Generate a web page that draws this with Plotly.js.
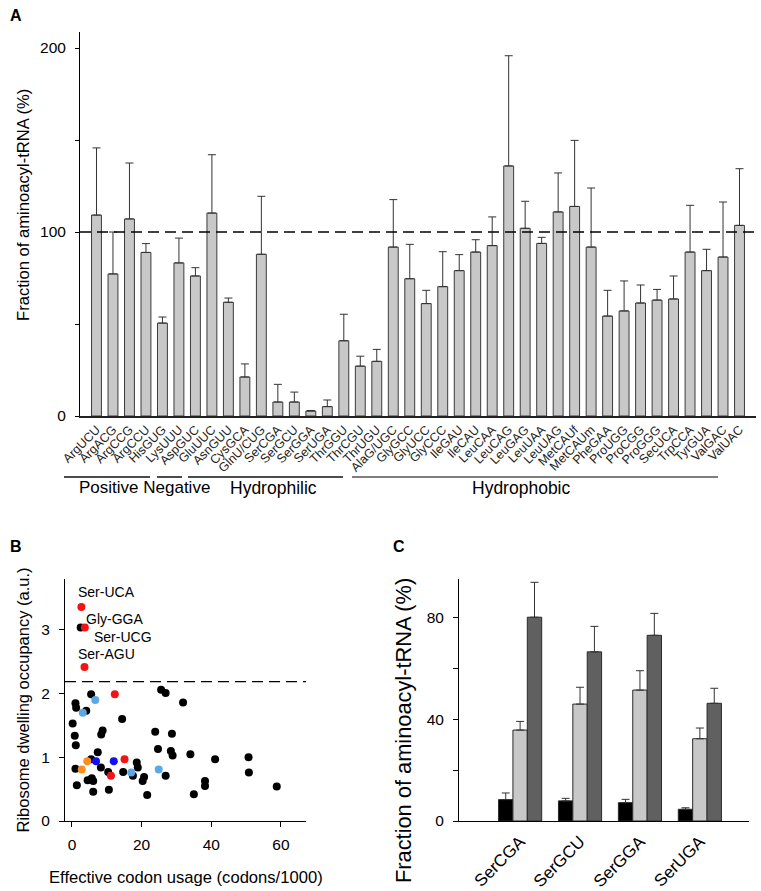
<!DOCTYPE html>
<html>
<head>
<meta charset="utf-8">
<script src="https://cdn.plot.ly/plotly-3.0.1.min.js"></script>
<style>html,body{margin:0;padding:0;background:#fff;}#chart{width:761px;height:891px;}</style>
</head>
<body>
<div id="chart"></div>
<script>
// ---------- Panel A data ----------
const codons = ['ArgUCU','ArgACG','ArgCCG','ArgCCU','HisGUG','LysUUU','AspGUC','GluUUC','AsnGUU','CysGCA',
  'GlnU/CUG','SerCGA','SerGCU','SerGGA','SerUGA','ThrGGU','ThrCGU','ThrUGU','AlaG/UGC','GlyGCC',
  'GlyUCC','GlyCCC','IleGAU','IleCAU','LeuCAA','LeuCAG','LeuGAG','LeuUAA','LeuUAG','MetCAUf',
  'MetCAUm','PheGAA','ProUGG','ProCGG','ProGGG','SecUCA','TrpCCA','TyrGUA','ValGAC','ValUAC'];
const fraction = [109.2,77.2,107.1,88.9,50.5,83.2,76.1,110.3,61.8,21.2,
  87.9,7.6,7.6,2.7,5.1,40.9,27.1,29.7,91.8,74.6,
  61.1,70.3,79.0,89.1,92.6,135.9,102.0,93.8,110.9,113.9,
  91.8,54.3,57.1,61.4,63.0,63.6,89.1,79.0,86.4,103.6];
const fractionErr = [36.5,22.8,30.4,4.8,3.3,13.5,4.5,31.7,2.3,7.1,
  31.5,9.6,5.4,0.3,3.6,14.4,5.4,6.5,25.8,18.7,
  7.2,19.0,8.7,6.7,15.6,59.9,14.7,3.3,21.2,35.9,
  32.1,14.0,16.3,9.8,5.8,12.5,25.4,11.6,29.9,30.8];
const yTickValsA = [0,50,100,150,200];
const yTickTextA = ['0','','100','','200'];

// ---------- Panel B data ----------
const usageBlack = [2.5,5.5,1.0,1.2,4.1,0.2,0.8,1.1,1.0,1.4,5.5,7.4,8.3,8.8,8.4,4.5,5.7,6.1,6.1,10.4,10.6,14.4,14.7,17.5,18.6,18.9,20.3,20.7,21.6,23.9,24.7,25.6,26.9,26.9,28.7,28.4,28.9,31.9,34.0,35.0,38.2,38.2,41.1,50.7,50.8,58.8];
const occBlack   = [3.04,1.99,1.85,1.78,1.73,1.53,1.34,1.19,0.82,0.56,0.97,1.08,0.84,1.42,1.36,0.64,0.67,0.63,0.46,0.77,0.49,1.60,0.77,0.71,0.92,0.84,0.63,0.69,0.41,1.40,1.13,2.06,2.01,0.71,1.37,1.10,1.03,1.86,1.05,0.42,0.63,0.55,0.97,1.00,0.76,0.54];
const usageRed = [2.7,3.7,3.6,12.3,15.1,11.2];
const occRed   = [3.36,3.04,2.42,1.99,0.97,0.71];
const usageLightBlue = [6.7,3.1,17.0,24.9];
const occLightBlue   = [1.90,1.70,0.76,0.81];
const usageBlue = [6.9,12.0];
const occBlue   = [0.94,0.94];
const usageOrange = [2.8,4.4];
const occOrange   = [0.81,0.94];
const labelNames = ['Ser-UCA','Gly-GGA','Ser-UCG','Ser-AGU'];
const labelX = [1.15,3.45,5.75,1.15];
const labelY = [3.60,3.17,2.89,2.63];
const occThreshold = 2.19;

// ---------- Panel C data ----------
const serCodons = ['SerCGA','SerGCU','SerGGA','SerUGA'];
const serBlack = [8.4,7.9,7.2,4.6];
const serBlackErr = [2.6,1.0,1.3,0.6];
const serLight = [35.7,45.9,51.4,32.3];
const serLightErr = [3.4,6.6,7.6,4.2];
const serDark = [80.0,66.4,72.9,46.2];
const serDarkErr = [13.7,10.0,8.6,5.9];
const yTickValsC = [0,20,40,60,80];
const yTickTextC = ['0','','40','','80'];

// ---------- Figure ----------
const FONT = 'Liberation Sans, Arial, Helvetica, sans-serif';
const W = 761, H = 891;
const px = v => v / W;
const py = v => 1 - v / H;

const traces = [];
traces.push({
  type: 'bar', x: codons, y: fraction, xaxis: 'x', yaxis: 'y', width: 0.6,
  marker: {color: '#c8c8c8', line: {color: '#3a3a3a', width: 1}},
  error_y: {type: 'data', symmetric: false, array: fractionErr, arrayminus: fraction.map(() => 0),
            color: '#333', thickness: 1, width: 4},
  hoverinfo: 'x+y', showlegend: false
});

function scatterTrace(xs, ys, color) {
  return {type: 'scatter', mode: 'markers', x: xs, y: ys, xaxis: 'x2', yaxis: 'y2',
    marker: {color: color, size: 8, line: {width: 0}}, showlegend: false, cliponaxis: false};
}
traces.push(scatterTrace(usageBlack, occBlack, '#000000'));
traces.push(scatterTrace(usageRed, occRed, '#f01414'));
traces.push(scatterTrace(usageLightBlue, occLightBlue, '#5aa9e6'));
traces.push(scatterTrace(usageBlue, occBlue, '#1010f0'));
traces.push(scatterTrace(usageOrange, occOrange, '#ff8c1e'));

function barC(vals, errs, color, offset) {
  return {type: 'bar', x: serCodons, y: vals, xaxis: 'x3', yaxis: 'y3', width: 0.24, offset: offset,
    marker: {color: color, line: {color: '#2a2a2a', width: 1}},
    error_y: {type: 'data', symmetric: false, array: errs, arrayminus: vals.map(() => 0),
              color: '#333', thickness: 1, width: 4},
    showlegend: false};
}
traces.push(barC(serBlack, serBlackErr, '#000000', -0.36));
traces.push(barC(serLight, serLightErr, '#c8c8c8', -0.12));
traces.push(barC(serDark, serDarkErr, '#606060', 0.12));

const tickFont = {family: FONT, size: 15.5, color: '#000'};

const layout = {
  width: W, height: H, margin: {l: 0, r: 0, t: 0, b: 0},
  paper_bgcolor: '#fff', plot_bgcolor: 'rgba(0,0,0,0)',
  font: {family: FONT, color: '#000'},
  barmode: 'overlay', showlegend: false,
  xaxis: {domain: [px(80), px(756)], anchor: 'y', type: 'category', range: [-1.0, 40.0],
    tickmode: 'linear', dtick: 1, tickangle: -45, ticks: '', showline: true, linecolor: '#222', linewidth: 1.5,
    showgrid: false, zeroline: false, tickfont: {family: FONT, size: 12.5, color: '#222'}, fixedrange: true},
  yaxis: {domain: [py(416), py(32)], anchor: 'x', range: [0, 208.7], tickmode: 'array',
    tickvals: yTickValsA, ticktext: yTickTextA, ticks: 'outside', ticklen: 4, tickcolor: '#000',
    ticklabelstandoff: 6,
    showline: true, linecolor: '#000', linewidth: 1, showgrid: false, zeroline: false, tickfont: tickFont},
  xaxis2: {domain: [px(65), px(306)], anchor: 'y2', range: [-2.0, 67.2], tickmode: 'array',
    tickvals: [0,20,40,60], ticks: 'outside', ticklen: 5, tickcolor: '#000', showline: true,
    ticklabelstandoff: 4,
    linecolor: '#000', linewidth: 1, showgrid: false, zeroline: false, tickfont: tickFont},
  yaxis2: {domain: [py(821), py(579)], anchor: 'x2', range: [0, 3.8], tickmode: 'array',
    tickvals: [0,1,2,3], ticks: 'outside', ticklen: 5, tickcolor: '#000', showline: true,
    ticklabelstandoff: 6,
    linecolor: '#000', linewidth: 1, showgrid: false, zeroline: false, tickfont: tickFont},
  xaxis3: {domain: [px(459), px(749)], anchor: 'y3', type: 'category', range: [-1.02, 3.82],
    tickangle: -45, ticks: '', showline: true, linecolor: '#000', linewidth: 1, showgrid: false,
    ticklabelstandoff: 3,
    zeroline: false, tickfont: {family: FONT, size: 17, color: '#000'}},
  yaxis3: {domain: [py(821), py(579)], anchor: 'x3', range: [0, 95], tickmode: 'array',
    tickvals: yTickValsC, ticktext: yTickTextC, ticks: 'outside', ticklen: 5, tickcolor: '#000',
    ticklabelstandoff: 6,
    showline: true, linecolor: '#000', linewidth: 1, showgrid: false, zeroline: false, tickfont: tickFont},
  shapes: [
    {type: 'line', xref: 'x domain', yref: 'y', x0: 0, x1: 1, y0: 100, y1: 100,
     line: {color: '#000', width: 1.3, dash: '11px,6px'}},
    {type: 'line', xref: 'x2 domain', yref: 'y2', x0: 0, x1: 1, y0: occThreshold, y1: occThreshold,
     line: {color: '#000', width: 1.3, dash: '11px,6px'}},
    {type: 'line', xref: 'paper', yref: 'paper', x0: px(64), x1: px(150), y0: py(477), y1: py(477), line: {color: '#111', width: 1.5}},
    {type: 'line', xref: 'paper', yref: 'paper', x0: px(157), x1: px(182), y0: py(477), y1: py(477), line: {color: '#111', width: 1.5}},
    {type: 'line', xref: 'paper', yref: 'paper', x0: px(188), x1: px(343), y0: py(477), y1: py(477), line: {color: '#111', width: 1.5}},
    {type: 'line', xref: 'paper', yref: 'paper', x0: px(352), x1: px(718), y0: py(477), y1: py(477), line: {color: '#555', width: 1.5}}
  ],
  annotations: [
    {text: '<b>A</b>', xref: 'paper', yref: 'paper', x: px(8), y: py(15), xanchor: 'left', yanchor: 'middle', showarrow: false, font: {family: FONT, size: 16}},
    {text: '<b>B</b>', xref: 'paper', yref: 'paper', x: px(8), y: py(546), xanchor: 'left', yanchor: 'middle', showarrow: false, font: {family: FONT, size: 16}},
    {text: '<b>C</b>', xref: 'paper', yref: 'paper', x: px(391), y: py(546), xanchor: 'left', yanchor: 'middle', showarrow: false, font: {family: FONT, size: 16}},
    {text: 'Fraction of aminoacyl-tRNA (%)', xref: 'paper', yref: 'paper', x: px(24), y: py(205), textangle: -90, showarrow: false, xanchor: 'center', yanchor: 'middle', font: {family: FONT, size: 16.6}},
    {text: 'Ribosome dwelling occupancy (a.u.)', xref: 'paper', yref: 'paper', x: px(22.5), y: py(700), textangle: -90, showarrow: false, xanchor: 'center', yanchor: 'middle', font: {family: FONT, size: 16.5}},
    {text: 'Effective codon usage (codons/1000)', xref: 'paper', yref: 'paper', x: px(186), y: py(877), showarrow: false, xanchor: 'center', yanchor: 'middle', font: {family: FONT, size: 16.6}},
    {text: 'Fraction of aminoacyl-tRNA (%)', xref: 'paper', yref: 'paper', x: px(403), y: py(731), textangle: -90, showarrow: false, xanchor: 'center', yanchor: 'middle', font: {family: FONT, size: 21.8}},
    {text: 'Positive Negative', xref: 'paper', yref: 'paper', x: px(77), y: py(488), xanchor: 'left', yanchor: 'middle', showarrow: false, font: {family: FONT, size: 17}},
    {text: 'Hydrophilic', xref: 'paper', yref: 'paper', x: px(228), y: py(488), xanchor: 'left', yanchor: 'middle', showarrow: false, font: {family: FONT, size: 17.5}},
    {text: 'Hydrophobic', xref: 'paper', yref: 'paper', x: px(521), y: py(488), xanchor: 'center', yanchor: 'middle', showarrow: false, font: {family: FONT, size: 17.5}}
  ].concat(labelNames.map((t, i) => ({
    text: t, xref: 'x2', yref: 'y2', x: labelX[i], y: labelY[i], xanchor: 'left', yanchor: 'middle',
    showarrow: false, font: {family: FONT, size: 14, color: '#000'}
  })))
};

Plotly.newPlot('chart', traces, layout, {staticPlot: true, displayModeBar: false});
</script>
</body>
</html>
